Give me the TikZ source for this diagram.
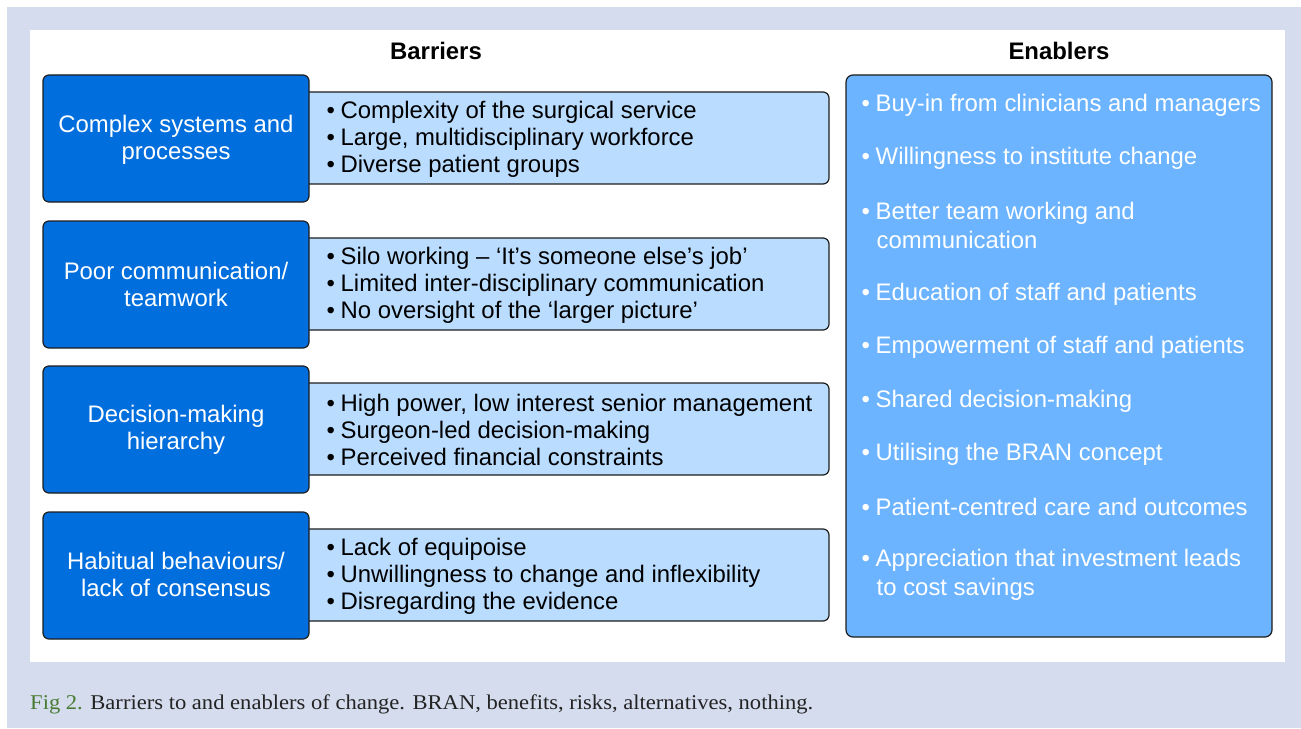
\documentclass[tikz,border=0pt]{standalone}
\usepackage{fontspec}
\setmainfont{Liberation Sans}
\newfontfamily\capfont{Liberation Serif}
\definecolor{pagebg}{RGB}{212,220,238}
\definecolor{darkblue}{RGB}{0,110,220}
\definecolor{lightblue}{RGB}{185,220,255}
\definecolor{midblue}{RGB}{108,180,255}
\definecolor{edgecol}{RGB}{30,30,30}
\definecolor{figgreen}{RGB}{72,122,50}
\definecolor{captext}{RGB}{35,35,35}
\newcommand{\bitem}[1]{\makebox[14bp][l]{•}#1}
\tikzset{
  mainfont/.style={font=\fontsize{23.9bp}{27bp}\selectfont},
  catbox/.style={draw=edgecol, line width=1.2bp, rounded corners=6bp, fill=darkblue},
  listbox/.style={draw=edgecol, line width=1.2bp, rounded corners=6bp, fill=lightblue},
  enabox/.style={draw=edgecol, line width=1.2bp, rounded corners=7bp, fill=midblue},
  cattext/.style={mainfont, text=white, align=center, inner sep=0pt},
  listtext/.style={mainfont, text=black, align=left, anchor=west, inner sep=0pt},
  enatext/.style={text=white, align=left, anchor=west, inner sep=0pt,
    font=\fontsize{23.9bp}{29bp}\selectfont},
  header/.style={font=\fontsize{23.9bp}{27bp}\selectfont\bfseries, text=black, inner sep=0pt}
}
\begin{document}
\begin{tikzpicture}[x=1bp, y=-1bp]
  % page background and white panel
  \fill[white] (0,0) rectangle (1301,728);
  \fill[pagebg] (7,7) rectangle (1301,728);
  \fill[white] (30,30) rectangle (1285,662);
  \useasboundingbox (0,0) rectangle (1301,728);

  % column headings
  \node[header] (hbar) at (436,50.5) {Barriers};
  \node[header] (hena) at (1059,50.5) {Enablers};

  % barrier rows: list panel behind, category box in front
  \foreach \i/\top in {1/75, 2/221, 3/366, 4/512} {
    \draw[listbox] (290,\top+17) rectangle (829,\top+109);
    \draw[catbox] (43,\top) rectangle (309,\top+127);
  }

  \node[cattext] (c1) at (176,139.5) {Complex systems and\\processes};
  \node[cattext] (c2) at (176,284.5) {Poor communication/\\teamwork};
  \node[cattext] (c3) at (176,430) {Decision-making\\hierarchy};
  \node[cattext] (c4) at (176,574.5) {Habitual behaviours/\\lack of consensus};

  \node[listtext] (l1) at (326.5,139.5) {\bitem{Complexity of the surgical service}\\\bitem{Large, multidisciplinary workforce}\\\bitem{Diverse patient groups}};
  \node[listtext] (l2) at (326.5,285) {\bitem{Silo working – ‘It’s someone else’s job’}\\\bitem{Limited inter-disciplinary communication}\\\bitem{No oversight of the ‘larger picture’}};
  \node[listtext] (l3) at (326.5,430) {\bitem{High power, low interest senior management}\\\bitem{Surgeon-led decision-making}\\\bitem{Perceived financial constraints}};
  \node[listtext] (l4) at (326.5,576) {\bitem{Lack of equipoise}\\\bitem{Unwillingness to change and inflexibility}\\\bitem{Disregarding the evidence}};

  % enablers panel
  \draw[enabox] (846,75) rectangle (1272,637);
  \node[enatext] (e1) at (861.5,105) {\bitem{Buy-in from clinicians and managers}};
  \node[enatext] (e2) at (861.5,158) {\bitem{Willingness to institute change}};
  \node[enatext] (e3) at (861.5,225) {\bitem{Better team working and}\\\hspace*{15bp}communication};
  \node[enatext] (e4) at (861.5,294) {\bitem{Education of staff and patients}};
  \node[enatext] (e5) at (861.5,347) {\bitem{Empowerment of staff and patients}};
  \node[enatext] (e6) at (861.5,401) {\bitem{Shared decision-making}};
  \node[enatext] (e7) at (861.5,454) {\bitem{Utilising the BRAN concept}};
  \node[enatext] (e8) at (861.5,507) {\bitem{Patient-centred care and outcomes}};
  \node[enatext] (e9) at (861.5,575) {\bitem{Appreciation that investment leads}\\\hspace*{15bp}to cost savings};

  % caption
  \node[anchor=base west, inner sep=0pt, text=captext, font=\capfont\fontsize{21bp}{24bp}\selectfont] (cap) at (30,709)
    {\scalebox{1.075}[1]{{\color{figgreen}Fig 2.} Barriers to and enablers of change. BRAN, benefits, risks, alternatives, nothing.}};
\end{tikzpicture}
\end{document}
